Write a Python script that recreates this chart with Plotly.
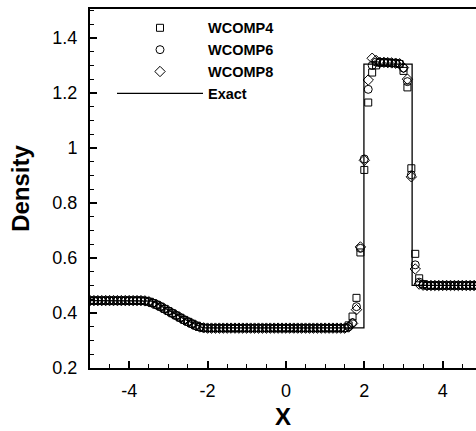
import plotly.graph_objects as go

# ---- data -------------------------------------------------------------
X_GRID = [-5.0, -4.9, -4.8, -4.7, -4.6, -4.5, -4.4, -4.3, -4.2, -4.1,
          -4.0, -3.9, -3.8, -3.7, -3.6, -3.5, -3.4, -3.3, -3.2, -3.1,
          -3.0, -2.9, -2.8, -2.7, -2.6, -2.5, -2.4, -2.3, -2.2, -2.1,
          -2.0, -1.9, -1.8, -1.7, -1.6, -1.5, -1.4, -1.3, -1.2, -1.1,
          -1.0, -0.9, -0.8, -0.7, -0.6, -0.5, -0.4, -0.3, -0.2, -0.1,
          0.0, 0.1, 0.2, 0.3, 0.4, 0.5, 0.6, 0.7, 0.8, 0.9,
          1.0, 1.1, 1.2, 1.3, 1.4, 1.5, 1.6, 1.7, 1.8, 1.9,
          2.0, 2.1, 2.2, 2.3, 2.4, 2.5, 2.6, 2.7, 2.8, 2.9,
          3.0, 3.1, 3.2, 3.3, 3.4, 3.5, 3.6, 3.7, 3.8, 3.9,
          4.0, 4.1, 4.2, 4.3, 4.4, 4.5, 4.6, 4.7, 4.8, 4.9, 5.0]

RHO_LEFT = [0.445] * 13
RHO_RAREFACTION = [0.445, 0.444, 0.441, 0.436, 0.430, 0.423, 0.415, 0.407, 0.399,
                   0.391, 0.383, 0.375, 0.368, 0.361, 0.354, 0.349, 0.346, 0.345]
RHO_STAR_LEFT = [0.345] * 35
RHO_RIGHT = [0.500] * 15

WCOMP4_WAVES = [0.355, 0.387, 0.455, 0.620, 0.920, 1.165, 1.274, 1.300, 1.310, 1.311,
                1.310, 1.309, 1.308, 1.305, 1.280, 1.220, 0.926, 0.615, 0.526, 0.505]
WCOMP6_WAVES = [0.350, 0.365, 0.423, 0.635, 0.960, 1.213, 1.300, 1.312, 1.311, 1.311,
                1.310, 1.309, 1.308, 1.306, 1.290, 1.241, 0.902, 0.575, 0.512, 0.502]
WCOMP8_WAVES = [0.349, 0.362, 0.412, 0.640, 0.955, 1.247, 1.326, 1.318, 1.311, 1.311,
                1.310, 1.309, 1.308, 1.306, 1.292, 1.250, 0.895, 0.560, 0.505, 0.501]

RHO_WCOMP4 = RHO_LEFT + RHO_RAREFACTION + RHO_STAR_LEFT + WCOMP4_WAVES + RHO_RIGHT
RHO_WCOMP6 = RHO_LEFT + RHO_RAREFACTION + RHO_STAR_LEFT + WCOMP6_WAVES + RHO_RIGHT
RHO_WCOMP8 = RHO_LEFT + RHO_RAREFACTION + RHO_STAR_LEFT + WCOMP8_WAVES + RHO_RIGHT

X_EXACT = [-5.0, -3.42, -3.4, -3.3, -3.2, -3.1, -3.0, -2.9, -2.8, -2.7, -2.6,
           -2.5, -2.4, -2.3, -2.2, -2.12, 1.99, 1.99, 3.22, 3.22, 5.0]
RHO_EXACT = [0.445, 0.445, 0.4430, 0.4345, 0.4262, 0.4180, 0.4099, 0.4020,
             0.3941, 0.3864, 0.3788, 0.3714, 0.3640, 0.3568, 0.3497, 0.3461,
             0.3461, 1.3044, 1.3044, 0.500, 0.500]

X_TICKS = [-4, -2, 0, 2, 4]
X_TICK_TEXT = ["-4", "-2", "0", "2", "4"]
Y_TICKS = [0.2, 0.4, 0.6, 0.8, 1.0, 1.2, 1.4]
Y_TICK_TEXT = ["0.2", "0.4", "0.6", "0.8", "1", "1.2", "1.4"]

# ---- figure -----------------------------------------------------------
FONT = "Liberation Sans, Arial, sans-serif"
fig = go.Figure()

fig.add_trace(go.Scatter(x=X_GRID, y=RHO_WCOMP4, mode="markers", name="WCOMP4",
                         marker=dict(symbol="square-open", size=7, color="black",
                                     line=dict(width=1, color="black"))))
fig.add_trace(go.Scatter(x=X_GRID, y=RHO_WCOMP6, mode="markers", name="WCOMP6",
                         marker=dict(symbol="circle-open", size=8, color="black",
                                     line=dict(width=1, color="black"))))
fig.add_trace(go.Scatter(x=X_GRID, y=RHO_WCOMP8, mode="markers", name="WCOMP8",
                         marker=dict(symbol="diamond-open", size=8, color="black",
                                     line=dict(width=1, color="black"))))
fig.add_trace(go.Scatter(x=X_EXACT, y=RHO_EXACT, mode="lines", name="Exact",
                         line=dict(color="black", width=1.3)))

axis_common = dict(
    showline=True, linecolor="black", linewidth=2,
    ticks="inside", ticklen=7, tickwidth=1.5, tickcolor="black",
    showgrid=False, zeroline=False,
    tickfont=dict(family=FONT, size=18, color="black"),
)

fig.update_xaxes(
    range=[-5.0, 4.85], tickvals=X_TICKS, ticktext=X_TICK_TEXT,
    mirror=True, ticklabelstandoff=5,
    minor=dict(ticks="inside", ticklen=4, tickwidth=1.2, tickcolor="black",
               dtick=0.5, tick0=0, showgrid=False),
    title=dict(text="X", font=dict(family=FONT, size=24, color="black", weight="bold"),
               standoff=9),
    **axis_common,
)
fig.update_yaxes(
    range=[0.2, 1.505], tickvals=Y_TICKS, ticktext=Y_TICK_TEXT,
    ticklabelstandoff=7,
    minor=dict(ticks="inside", ticklen=4, tickwidth=1.2, tickcolor="black",
               dtick=0.05, tick0=0.2, showgrid=False),
    title=dict(text="Density", font=dict(family=FONT, size=24, color="black", weight="bold"),
               standoff=16),
    **axis_common,
)

fig.update_layout(
    width=476, height=431,
    margin=dict(l=90, r=0, t=9, b=63),
    paper_bgcolor="white", plot_bgcolor="white",
    showlegend=True,
    legend=dict(x=0.057, y=0.992, xanchor="left", yanchor="top",
                bgcolor="rgba(0,0,0,0)", borderwidth=0,
                itemwidth=86, tracegroupgap=0,
                font=dict(family=FONT, size=14.5, color="black", weight="bold")),
)

fig.write_html("out.html")
